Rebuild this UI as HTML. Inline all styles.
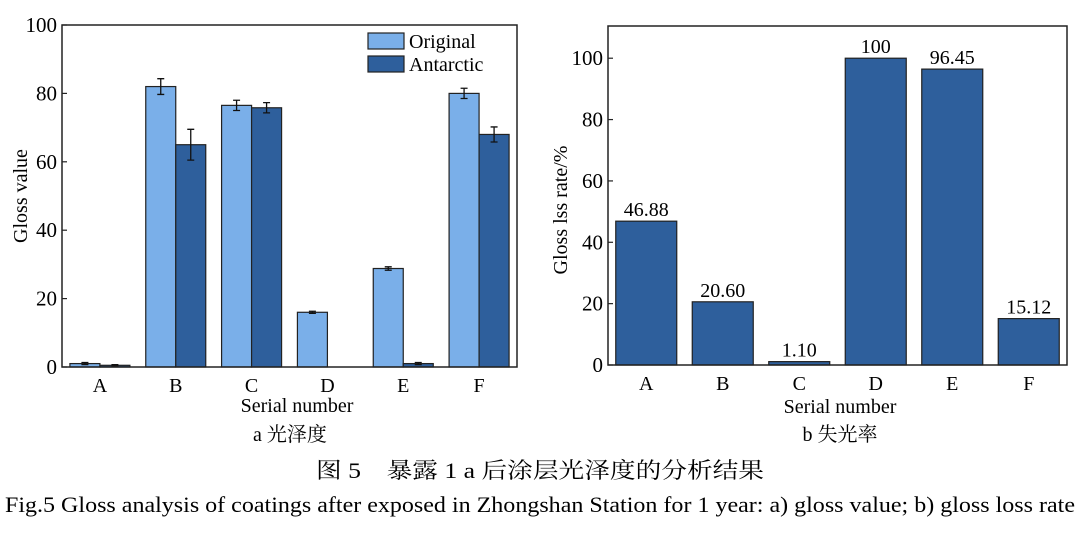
<!DOCTYPE html>
<html><head><meta charset="utf-8"><style>
html,body{margin:0;padding:0;background:#fff;}
svg{display:block;font-family:"Liberation Serif","Noto Serif CJK SC",serif;}
</style></head><body>
<svg id="c" width="1080" height="538" viewBox="0 0 1080 538" xmlns="http://www.w3.org/2000/svg">
<g id="left"></g>
<g id="right"></g>
<text x="540" y="478" font-size="22" text-anchor="middle" textLength="448" lengthAdjust="spacingAndGlyphs">图 5　暴露 1 a 后涂层光泽度的分析结果</text>
<text x="540" y="512" font-size="22" text-anchor="middle" textLength="1070" lengthAdjust="spacingAndGlyphs">Fig.5 Gloss analysis of coatings after exposed in Zhongshan Station for 1 year: a) gloss value; b) gloss loss rate</text>
</svg>
<script>
const categories = ["A","B","C","D","E","F"];
const originalValues = [1, 82, 76.5, 16, 28.8, 80];
const originalErrors = [0.3, 2.3, 1.5, 0.3, 0.5, 1.5];
const antarcticValues = [0.5, 65, 75.8, 0, 1, 68];
const antarcticErrors = [0.2, 4.5, 1.5, 0, 0.3, 2.2];
const lossRates = [46.88, 20.60, 1.10, 100, 96.45, 15.12];
const lossLabels = ["46.88","20.60","1.10","100","96.45","15.12"];
const leftTicks = [0,20,40,60,80,100];
const rightTicks = [0,20,40,60,80,100];

const NS = "http://www.w3.org/2000/svg";
function mk(parent, tag, attrs, text){
  const e = document.createElementNS(NS, tag);
  for (const k in attrs) e.setAttribute(k, attrs[k]);
  if (text !== undefined) e.textContent = text;
  parent.appendChild(e);
  return e;
}
const LIGHT="#7aafe9", DARK="#2e5f9c";
const FS=20;

(function(){
  const g = document.getElementById('left');
  const x0=62, x1=517, yTop=25, yBot=367;
  const y = v => yBot - (v/100)*(yBot-yTop);
  const step=(x1-x0)/6;
  const cx = i => x0 + step*(i+0.5);
  const bw=30;
  categories.forEach((c,i)=>{
    let r = mk(g,'rect',{x:cx(i)-bw,y:y(originalValues[i]),width:bw,height:yBot-y(originalValues[i]),fill:LIGHT,stroke:"#222","stroke-width":1.2});
    
    
    let r2 = mk(g,'rect',{x:cx(i),y:y(antarcticValues[i]),width:bw,height:yBot-y(antarcticValues[i]),fill:DARK,stroke:"#222","stroke-width":1.2});
    
    
    [[cx(i)-bw/2,originalValues[i],originalErrors[i]],[cx(i)+bw/2,antarcticValues[i],antarcticErrors[i]]].forEach(([ex,v,e])=>{
      if(v<=0) return;
      const p = mk(g,'path',{d:`M${ex},${y(v+e)}V${y(v-e)}M${ex-3.5},${y(v+e)}h7M${ex-3.5},${y(v-e)}h7`,stroke:"#111","stroke-width":1.3,fill:"none"});
      
      
    });
    const t = mk(g,'text',{x:cx(i),y:yBot+25,"font-size":FS,"text-anchor":"middle"},c);
    
    
  });
  leftTicks.forEach(v=>{
    mk(g,'line',{x1:x0,x2:x0+5,y1:y(v),y2:y(v),stroke:"#222","stroke-width":1.2});
    const t = mk(g,'text',{x:x0-5,y:y(v)+7,"font-size":FS+1,"text-anchor":"end"},v);
    
    
  });
  const f = mk(g,'rect',{x:x0,y:yTop,width:x1-x0,height:yBot-yTop,fill:"none",stroke:"#222","stroke-width":1.5});
  
  
  const lg = mk(g,'g',{});
  
  
  mk(lg,'rect',{x:368,y:33,width:36,height:16,fill:LIGHT,stroke:"#222","stroke-width":1.2});
  mk(lg,'text',{x:409,y:48,"font-size":FS},"Original");
  mk(lg,'rect',{x:368,y:56,width:36,height:16,fill:DARK,stroke:"#222","stroke-width":1.2});
  mk(lg,'text',{x:409,y:71,"font-size":FS},"Antarctic");
  const xt = mk(g,'text',{x:297,y:412,"font-size":FS,"text-anchor":"middle"},"Serial number");
  
  
  const yt = mk(g,'text',{x:0,y:0,"font-size":FS,"text-anchor":"middle",transform:"translate(27,196) rotate(-90)"},"Gloss value");
  
  
  const sc = mk(g,'text',{x:290,y:441,"font-size":FS,"text-anchor":"middle"},"a  光泽度");
  
  
})();

(function(){
  const g = document.getElementById('right');
  const x0=608, x1=1067, yTop=26, yBot=365, vMax=110.5;
  const y = v => yBot - (v/vMax)*(yBot-yTop);
  const step=(x1-x0)/6;
  const cx = i => x0 + step*(i+0.5);
  const bw=61;
  categories.forEach((c,i)=>{
    const r = mk(g,'rect',{x:cx(i)-bw/2,y:y(lossRates[i]),width:bw,height:yBot-y(lossRates[i]),fill:DARK,stroke:"#222","stroke-width":1.2});
    
    
    const l = mk(g,'text',{x:cx(i),y:y(lossRates[i])-5,"font-size":FS,"text-anchor":"middle"},lossLabels[i]);
    
    
    const t = mk(g,'text',{x:cx(i),y:yBot+25,"font-size":FS,"text-anchor":"middle"},c);
    
    
  });
  rightTicks.forEach(v=>{
    mk(g,'line',{x1:x0,x2:x0+5,y1:y(v),y2:y(v),stroke:"#222","stroke-width":1.2});
    const t = mk(g,'text',{x:x0-5,y:y(v)+7,"font-size":FS+1,"text-anchor":"end"},v);
    
    
  });
  const f = mk(g,'rect',{x:x0,y:yTop,width:x1-x0,height:yBot-yTop,fill:"none",stroke:"#222","stroke-width":1.5});
  
  
  const xt = mk(g,'text',{x:840,y:413,"font-size":FS,"text-anchor":"middle"},"Serial number");
  
  
  const yt = mk(g,'text',{x:0,y:0,"font-size":FS,"text-anchor":"middle",transform:"translate(567,210) rotate(-90)"},"Gloss lss rate/%");
  
  
  const sc = mk(g,'text',{x:840,y:441,"font-size":FS,"text-anchor":"middle"},"b  失光率");
  
  
})();
</script>
</body></html>
